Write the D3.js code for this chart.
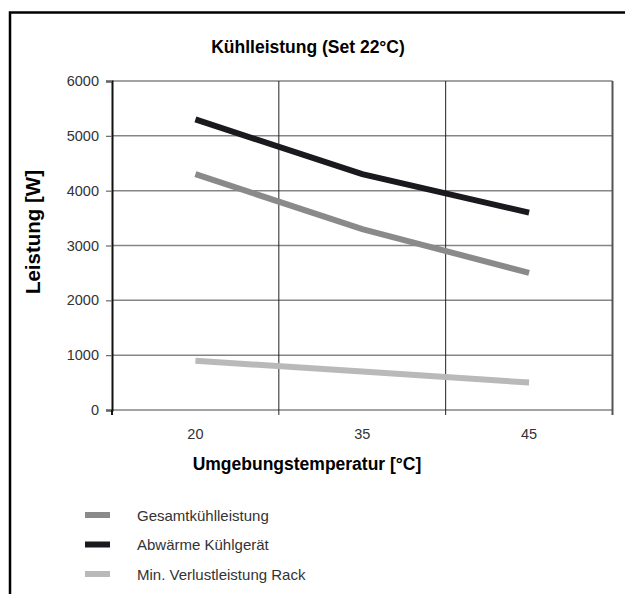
<!DOCTYPE html>
<html>
<head>
<meta charset="utf-8">
<script src="https://cdn.jsdelivr.net/npm/d3@7"></script>
<style>
  body { margin: 0; background: #fff; }
  svg { display: block; font-family: "Liberation Sans", Arial, sans-serif; }
</style>
</head>
<body>
<div id="chart"></div>
<script>
// data
var temps = ["20", "35", "45"];
var gesamt = [4300, 3300, 2500];
var abwaerme = [5300, 4300, 3600];
var verlust = [900, 700, 500];
var yTicks = [0, 1000, 2000, 3000, 4000, 5000, 6000];
var seriesNames = ["Gesamtkühlleistung", "Abwärme Kühlgerät", "Min. Verlustleistung Rack"];
var seriesColors = ["#8a8a8a", "#1a1a1e", "#b9b9b9"];

var W = 625, H = 594;
var margin = {top: 81, left: 112},
    width = 500.5,
    height = 329;

var svg = d3.select("#chart").append("svg")
    .attr("width", W)
    .attr("height", H);

// outer frame (left + top only visible)
svg.append("path")
    .attr("d", "M10," + H + "V12.5H" + W)
    .attr("fill", "none")
    .attr("stroke", "#000")
    .attr("stroke-width", 2.5);

var g = svg.append("g")
    .attr("transform", "translate(" + margin.left + "," + margin.top + ")");

var x = d3.scaleBand().domain(temps).range([0, width]);
var y = d3.scaleLinear().domain([0, 6000]).range([height, 0]);

// horizontal gridlines
g.selectAll(".hgrid").data(yTicks).enter().append("line")
    .attr("x1", 0).attr("x2", width)
    .attr("y1", function (d) { return y(d); })
    .attr("y2", function (d) { return y(d); })
    .attr("stroke", "#858585")
    .attr("stroke-width", 1.5);

// vertical gridlines between categories
var bounds = temps.slice(1).map(function (d) { return x(d); });
g.selectAll(".vgrid").data(bounds).enter().append("line")
    .attr("x1", function (d) { return d; })
    .attr("x2", function (d) { return d; })
    .attr("y1", 0).attr("y2", height + 5)
    .attr("stroke", "#222")
    .attr("stroke-width", 1);

// right edge
g.append("line")
    .attr("x1", width).attr("x2", width)
    .attr("y1", 0).attr("y2", height + 5)
    .attr("stroke", "#555")
    .attr("stroke-width", 2);

// y axis
var yAxis = g.append("g")
    .call(d3.axisLeft(y).tickValues(yTicks).tickSize(6).tickPadding(7).tickFormat(d3.format("d")));
yAxis.select(".domain").attr("stroke", "#111").attr("stroke-width", 2);
yAxis.selectAll(".tick line").attr("stroke", "#666").attr("stroke-width", 1.2);
yAxis.selectAll("text").attr("fill", "#333").style("font-size", "14.5px");

// x axis
var xAxis = g.append("g")
    .attr("transform", "translate(0," + height + ")")
    .call(d3.axisBottom(x).tickSize(0).tickPadding(19));
xAxis.select(".domain").remove();
xAxis.selectAll("text").attr("fill", "#333").style("font-size", "14.5px");
g.append("line")
    .attr("x1", 0).attr("x2", 0)
    .attr("y1", height).attr("y2", height + 5)
    .attr("stroke", "#111").attr("stroke-width", 2);

// lines
var line = d3.line()
    .x(function (d, i) { return x(temps[i]) + x.bandwidth() / 2; })
    .y(function (d) { return y(d); });

[gesamt, abwaerme, verlust].forEach(function (s, i) {
    g.append("path")
        .datum(s)
        .attr("d", line)
        .attr("fill", "none")
        .attr("stroke", seriesColors[i])
        .attr("stroke-width", 6);
});

// titles
svg.append("text")
    .attr("x", 308).attr("y", 52.5)
    .attr("text-anchor", "middle")
    .style("font-size", "17.5px").style("font-weight", "bold")
    .text("Kühlleistung (Set 22°C)");

svg.append("text")
    .attr("transform", "translate(40,232) rotate(-90)")
    .attr("text-anchor", "middle")
    .style("font-size", "20.5px").style("font-weight", "bold")
    .text("Leistung [W]");

svg.append("text")
    .attr("x", 307).attr("y", 470)
    .attr("text-anchor", "middle")
    .style("font-size", "17.5px").style("font-weight", "bold")
    .text("Umgebungstemperatur [°C]");

// legend
var legend = svg.append("g").attr("transform", "translate(85,515)");
seriesNames.forEach(function (n, i) {
    var row = legend.append("g").attr("transform", "translate(0," + (i * 29.5) + ")");
    row.append("rect")
        .attr("x", 0).attr("y", -3)
        .attr("width", 25).attr("height", 6)
        .attr("fill", seriesColors[i]);
    row.append("text")
        .attr("x", 52).attr("y", 5.5)
        .attr("fill", "#333")
        .style("font-size", "15px")
        .text(n);
});
</script>
</body>
</html>
